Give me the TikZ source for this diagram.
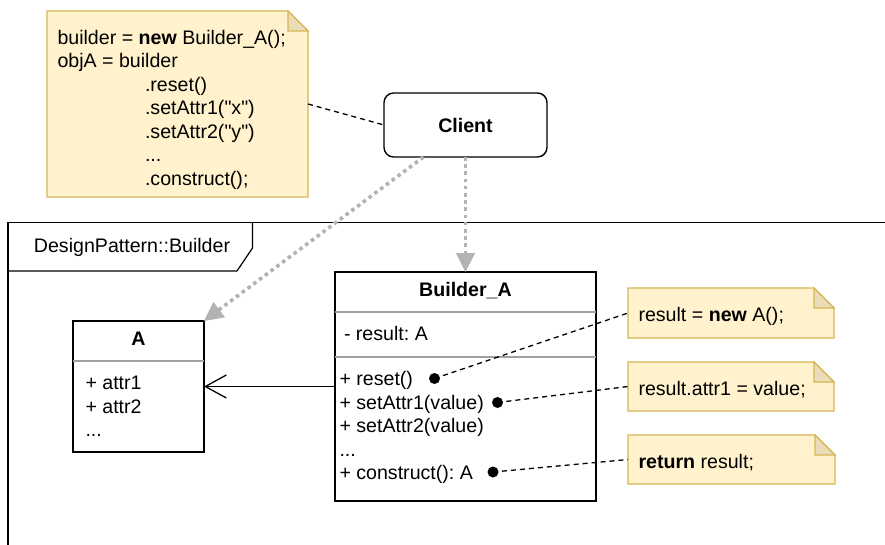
\documentclass[tikz,border=0pt]{standalone}
\usepackage{fontspec}
\setmainfont{Liberation Sans}[Ligatures=TeXOff]
\usetikzlibrary{arrows.meta}
\frenchspacing

\definecolor{notefill}{HTML}{FFF2CC}
\definecolor{noteline}{HTML}{D6B656}
\definecolor{notefold}{HTML}{E9DCB6}
\definecolor{depline}{HTML}{B3B3B3}
\definecolor{sepline}{HTML}{A0A0A0}

\tikzset{
  every node/.style={font=\fontsize{19.6}{23.5}\selectfont, inner sep=0pt, outer sep=0pt},
  txt/.style={anchor=base west},
  ctxt/.style={anchor=base},
  classbox/.style={rectangle, draw=black, line width=1.3pt, fill=white},
  clientbox/.style={rectangle, draw=black, line width=1.4pt, fill=white, rounded corners=9.6pt},
  notebox/.style={rectangle, draw=none},
  sep/.style={draw=sepline, line width=1.3pt},
  pkgline/.style={draw=black, line width=1.2pt},
  dashline/.style={draw=black, line width=1.3pt, dash pattern=on 5pt off 4pt},
  dotnode/.style={circle, fill=black, minimum size=11pt},
  dep/.style={draw=depline, line width=3.6pt, dash pattern=on 3.6pt off 3.6pt,
              -{Triangle[length=19pt,width=19pt,line width=1pt]}},
  assoc/.style={draw=black, line width=1.3pt,
              -{Straight Barb[length=21pt,width=23pt,line width=1.3pt]}}
}

% folded-corner note outline drawn round an empty node
\newcommand\foldnote[1]{%
  \draw[noteline, line width=1.3pt, fill=notefill, line join=miter]
    (#1.north west) -- ([xshift=-20pt]#1.north east) -- ([yshift=-20pt]#1.north east)
    -- (#1.south east) -- (#1.south west) -- cycle;
  \draw[noteline, line width=1.3pt, fill=notefold, line join=miter]
    ([xshift=-20pt]#1.north east) -- ([xshift=-20pt,yshift=-20pt]#1.north east)
    -- ([yshift=-20pt]#1.north east) -- cycle;}

\begin{document}
\begin{tikzpicture}[x=1pt, y=-1pt]
  \useasboundingbox (0,0) rectangle (885,545);
  \fill[white] (0,0) rectangle (885,545);

  % client code note
  \node[notebox, minimum width=261pt, minimum height=186pt] (note) at (177.5,104) {};
  \foldnote{note}
  \node[txt] (c1) at (57.5,44.3)  {builder = \textbf{new} Builder\_A();};
  \node[txt] (c2) at (57.5,67.8)  {objA = builder};
  \node[txt] (c3) at (145,91.3)   {.reset()};
  \node[txt] (c4) at (145,114.8)  {.setAttr1("x")};
  \node[txt] (c5) at (145,138.3)  {.setAttr2("y")};
  \node[txt] (c6) at (145,161.8)  {...};
  \node[txt] (c7) at (145,185.3)  {.construct();};

  % client
  \node[clientbox, minimum width=163pt, minimum height=64pt] (client) at (465.5,125) {\textbf{Client}};
  \draw[dashline] (note.east) -- (client.west);

  % package frame with its tab
  \draw[pkgline] (885,222.5) -- (8,222.5) -- (8,545);
  \draw[pkgline] (252.5,222.5) -- (252.5,248) -- (237,271) -- (8,271);
  \node[ctxt] (pkg) at (132,252.7) {DesignPattern::Builder};

  % class A
  \node[classbox, minimum width=131pt, minimum height=131pt] (A) at (138.5,386.5) {};
  \draw[sep] ([yshift=-40pt]A.north west) -- ([yshift=-40pt]A.north east);
  \node[ctxt] (Aname) at (138.5,345.5) {\textbf{A}};
  \node[txt] (a1) at (85.5,389.5) {+ attr1};
  \node[txt] (a2) at (85.5,413)   {+ attr2};
  \node[txt] (a3) at (85.5,436.5) {...};

  % class Builder_A
  \node[classbox, minimum width=261pt, minimum height=229pt] (B) at (465.5,386.5) {};
  \draw[sep] ([yshift=-40pt]B.north west) -- ([yshift=-40pt]B.north east);
  \draw[sep] ([yshift=-85pt]B.north west) -- ([yshift=-85pt]B.north east);
  \node[ctxt] (Bname) at (465.5,296.5) {\textbf{Builder\_A}};
  \node[txt] (b0) at (344,340.5) {- result: A};
  \node[txt] (b1) at (339.5,385.5) {+ reset()};
  \node[txt] (b2) at (339.5,409)   {+ setAttr1(value)};
  \node[txt] (b3) at (339.5,432.5) {+ setAttr2(value)};
  \node[txt] (b4) at (339.5,456)   {...};
  \node[txt] (b5) at (339.5,479.5) {+ construct(): A};

  % method notes
  \node[notebox, minimum width=206pt, minimum height=50pt] (n1) at (731,313) {};
  \foldnote{n1}
  \node[txt] (t1) at (638.5,321.5) {result = \textbf{new} A();};
  \node[notebox, minimum width=206pt, minimum height=49pt] (n2) at (731,386.5) {};
  \foldnote{n2}
  \node[txt] (t2) at (638.5,395.5) {result.attr1 = value;};
  \node[notebox, minimum width=207pt, minimum height=49pt] (n3) at (731.5,459.5) {};
  \foldnote{n3}
  \node[txt] (t3) at (638.5,468.5) {\textbf{return} result;};

  % anchors of the note links
  \node[dotnode] (d1) at (434.5,378.5) {};
  \node[dotnode] (d2) at (497.5,402.5) {};
  \node[dotnode] (d3) at (493,472) {};
  \draw[dashline] (d1.center) -- (n1.west);
  \draw[dashline] (d2.center) -- (n2.west);
  \draw[dashline] (d3.center) -- (n3.west);

  % association Builder_A -> A
  \draw[assoc] (B.west) -- (A.east);

  % dependencies of the client
  \coordinate (cl) at ([xshift=-42pt]client.south);
  \draw[dep] (client.south) -- (B.north);
  \draw[dep] (cl) -- (A.north east);
\end{tikzpicture}
\end{document}
